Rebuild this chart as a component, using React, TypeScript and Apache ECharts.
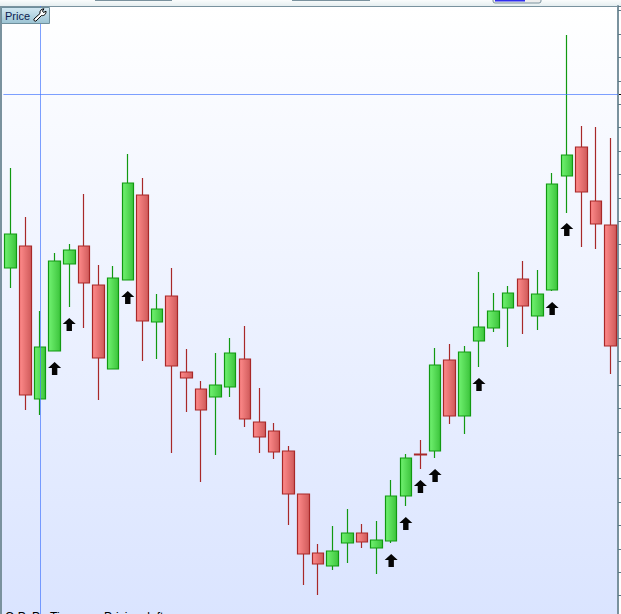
import React, { useEffect, useRef } from "react";
import * as echarts from "echarts";

const opens = [351,373,220,268,355,373,334,250,339,424,297,323,247,230,222,232,260,197,188,168,125,66,53,76,86,71,78,123,165,168,259,203,278,291,311,340,303,329,443,472,418,394];
const closes = [385,224,272,358,369,336,261,341,436,298,310,253,241,209,234,266,200,182,167,125,65,55,68,86,77,79,123,161,164,254,203,267,292,308,326,313,325,435,464,427,395,273];
const lows = [331,209,204,268,312,291,219,250,339,258,260,166,207,137,164,222,192,166,160,94,34,24,49,56,71,45,76,113,150,161,195,185,252,287,272,285,289,328,406,372,370,245];
const highs = [451,402,308,366,375,425,354,353,465,441,325,351,270,238,266,281,293,231,196,173,125,75,93,110,95,98,139,165,179,271,275,273,347,326,333,358,349,446,584,493,492,481];
const categories = opens.map((_, i) => `B${i + 1}`);

const arrowBars = [3, 4, 8, 26, 27, 28, 29, 32, 37, 38];
const arrowPrices = [250.5, 294.5, 321.5, 58.5, 95.5, 132.5, 143.5, 234.5, 310.5, 389.5];

const crossBar = 2;
const crossPrice = 524.5;
const tickStep = 23.4;
const footerTexts = ["O P  P", "Time", "Pricing: left"];

const WRENCH = "M1 11 L7 5.5 C6.5 3 8 1 11 0.8 L9.5 3 L10.5 4.5 L13 3.2 C13.3 6 11 8.2 8.5 7.5 L3 13 C2 13.8 0.2 12.2 1 11 Z";
const ARROW = "path://M6 0 L12 6 L8.5 6 L8.5 13 L3.5 13 L3.5 6 L0 6 Z";
const CHROME = "#7a929e";

echarts.graphic.registerShape("wrench", echarts.graphic.extendPath(WRENCH, {}));

export default function App() {
  const ref = useRef<HTMLDivElement>(null);
  useEffect(() => {
    document.body.style.margin = "0";
    document.documentElement.style.overflow = "hidden";
    const chart = echarts.init(ref.current!, undefined, { renderer: "svg" });
    const lg = (stops: string[], x2 = 1, y2 = 0) =>
      new echarts.graphic.LinearGradient(0, 0, x2, y2, stops.map((color, i) => ({ offset: i / (stops.length - 1), color })));
    chart.setOption({
      animation: false,
      backgroundColor: "#ffffff",
      grid: { left: 3.4, top: 6, width: 614.6, height: 613 },
      xAxis: { type: "category", data: categories, show: false, boundaryGap: true },
      yAxis: {
        type: "value",
        position: "right",
        min: 0,
        max: 613,
        interval: tickStep,
        splitLine: { show: false },
        axisLabel: { show: false },
        axisLine: { show: true, onZero: false, lineStyle: { color: CHROME, width: 2 } },
        axisTick: { show: true, length: 3, lineStyle: { color: "#5f7a86", width: 1 } },
      },
      graphic: [
        { type: "rect", z: -5, shape: { x: 0, y: 6, width: 618, height: 613 }, style: { fill: lg(["#ffffff", "#dae4ff"], 0, 1) } },
        { type: "rect", z: -5, shape: { x: 0, y: 0, width: 621, height: 6 }, style: { fill: lg(["#fafcfc", "#e5eef0"], 0, 1) } },
        { type: "rect", z: 5, shape: { x: 0, y: 6, width: 618, height: 1 }, style: { fill: CHROME } },
        { type: "rect", z: 5, shape: { x: 0, y: 6, width: 2, height: 613 }, style: { fill: CHROME } },
        { type: "rect", z: 5, shape: { x: 95, y: 0, width: 77, height: 1 }, style: { fill: CHROME } },
        { type: "rect", z: 5, shape: { x: 292, y: 0, width: 78, height: 1 }, style: { fill: CHROME } },
        { type: "rect", z: 5, shape: { x: 493, y: -3, width: 48, height: 6, r: 2 }, style: { fill: "#eeeeee", stroke: CHROME, lineWidth: 1 } },
        { type: "rect", z: 6, shape: { x: 495, y: 0, width: 30, height: 1.5 }, style: { fill: "#2f2ff0" } },
        { type: "rect", z: 6, shape: { x: 619, y: 94, width: 2, height: 1 }, style: { fill: "#000000" } },
        { type: "rect", z: 20, shape: { x: 1.5, y: 7.5, width: 48, height: 16 }, style: { fill: lg(["#d3e8f2", "#9bc3d3"], 0, 1), stroke: "#6f8f9c", lineWidth: 1 } },
        { type: "text", z: 21, x: 5, y: 16, style: { text: "Price", fill: "#0b1a4f", font: '11px "Liberation Sans"', textVerticalAlign: "middle" } },
        { type: "wrench", z: 21, x: 33, y: 8, style: { fill: "#ffffff", stroke: "#000000", lineWidth: 1 } },
        { type: "text", z: 21, x: 5, y: 611, style: { text: footerTexts[0], fill: "#000000", font: '12px "Liberation Sans"' } },
        { type: "text", z: 21, x: 50, y: 611, style: { text: footerTexts[1], fill: "#000000", font: '12px "Liberation Sans"' } },
        { type: "text", z: 21, x: 104, y: 611, style: { text: footerTexts[2], fill: "#000000", font: '12px "Liberation Sans"' } },
      ],
      series: [
        {
          type: "candlestick",
          barWidth: 12,
          data: opens.map((o, i) => [o, closes[i], lows[i], highs[i]]),
          itemStyle: {
            color: lg(["#71f271", "#3cc43c"]),
            color0: lg(["#ff8b8b", "#cf5a5a"]),
            borderColor: "#119911",
            borderColor0: "#a82828",
            borderWidth: 1.2,
          },
          markLine: {
            silent: true,
            symbol: "none",
            label: { show: false },
            animation: false,
            lineStyle: { type: "solid", width: 1, color: "rgba(70,120,255,0.7)" },
            data: [{ xAxis: crossBar }, { yAxis: crossPrice }],
          },
        },
        {
          type: "scatter",
          symbol: ARROW,
          symbolSize: [13, 13],
          itemStyle: { color: "#050505", opacity: 1 },
          data: arrowBars.map((b, i) => [b, arrowPrices[i]]),
          z: 6,
        },
      ],
    });
    return () => chart.dispose();
  }, []);
  return (
    <div style={{ width: 621, height: 614, position: "absolute", left: 0, top: 0, overflow: "hidden" }}>
      <div ref={ref} style={{ width: 621, height: 619 }} />
    </div>
  );
}
